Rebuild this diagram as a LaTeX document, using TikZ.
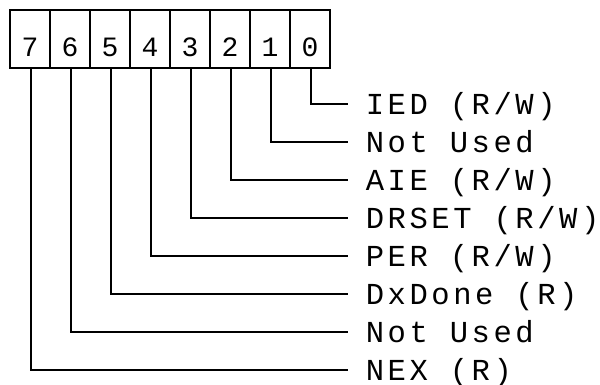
\documentclass[tikz,border=0pt]{standalone}
\usepackage{fontspec}
\newfontfamily\plotfont[LetterSpace=11.7]{Liberation Mono}
\begin{document}
\begin{tikzpicture}[x=1pt,y=-1pt,
  every path/.style={line width=1.8pt},
  bitbox/.style={draw,line width=1.8pt,minimum width=40pt,minimum height=58pt,inner sep=0pt,
    text height=35pt,text depth=0pt,font=\plotfont\fontsize{28}{28}\selectfont},
  fieldlabel/.style={anchor=west,inner xsep=17pt,inner ysep=0pt,text height=21pt,text depth=0pt,
    font=\plotfont\fontsize{30.5}{30.5}\selectfont},
  conn/.style={draw,line width=1.8pt}]
\useasboundingbox (0,0) rectangle (600,385);
\foreach \i in {0,...,7}{
  \node[bitbox] (b\i) at ({310-40*\i},39) {\i};
}
\node[fieldlabel] (l0) at (348,104) {IED (R/W)};
\node[fieldlabel] (l1) at (348,142) {Not Used};
\node[fieldlabel] (l2) at (348,180) {AIE (R/W)};
\node[fieldlabel] (l3) at (348,218) {DRSET (R/W)};
\node[fieldlabel] (l4) at (348,256) {PER (R/W)};
\node[fieldlabel] (l5) at (348,294) {DxDone (R)};
\node[fieldlabel] (l6) at (348,332) {Not Used};
\node[fieldlabel] (l7) at (348,370) {NEX (R)};
\foreach \i in {0,...,7}{
  \draw[conn] ([xshift=1pt]b\i.south) |- (l\i.west);
}
\end{tikzpicture}
\end{document}
